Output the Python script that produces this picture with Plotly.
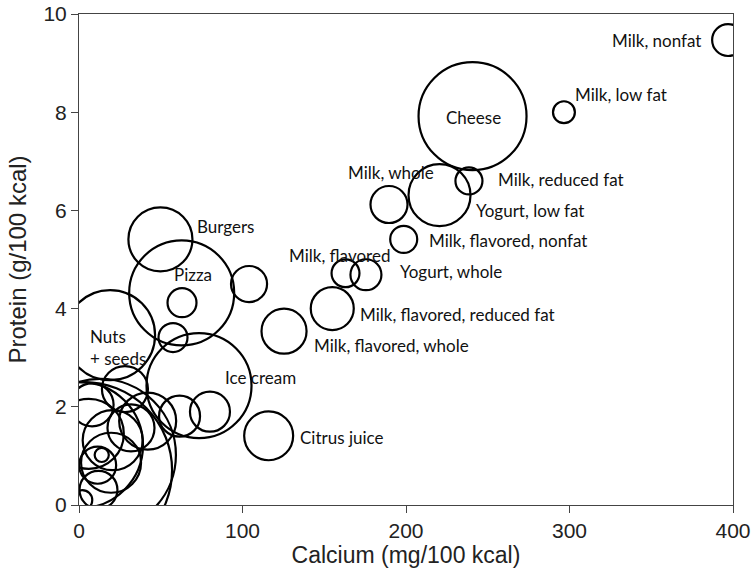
import plotly.graph_objects as go

# Food groups: calcium (mg/100 kcal), protein (g/100 kcal), relative bubble area (intake)
foods = [
    "Milk, nonfat", "Milk, low fat", "Cheese", "Milk, reduced fat", "Yogurt, low fat",
    "Milk, whole", "Milk, flavored, nonfat", "Milk, flavored", "Yogurt, whole",
    "Milk, flavored, reduced fat", "Milk, flavored, whole", "Citrus juice", "Burgers",
    "Pizza", "Other 1", "Other 2", "Other 3", "Nuts + seeds", "Ice cream", "Other 4",
    "Other 5", "Other 6", "Other 7", "Other 8", "Other 9", "Other 10", "Other 11",
    "Other 12", "Other 13", "Other 14", "Other 15", "Other 16", "Other 17",
    "Other 18", "Other 19",
]
calcium = [
    397, 296.6, 240.7, 238.5, 220.5,
    189.6, 198.6, 163, 175.5,
    154.9, 125.4, 116, 49.8,
    62.8, 63, 104, 57.5, 19, 73.4, 80.1,
    61.5, 3.1, 12.8, 0.6, 28.1, 31.8, 42,
    13.9, 11.4, 11.9, 8, 19.6, 20.6,
    6.0, 2.0,
]
protein = [
    9.47, 8.0, 7.92, 6.6, 6.31,
    6.12, 5.41, 4.72, 4.69,
    4.0, 3.54, 1.41, 5.41,
    4.32, 4.12, 4.5, 3.41, 3.46, 2.43, 1.9,
    1.81, 0.71, 1.02, 1.22, 2.36, 1.57, 1.71,
    1.02, 0.81, 0.31, 2.04, 0.86, 1.32,
    1.45, 0.1,
]
intake = [
    10.2, 4.8, 116.6, 7.3, 38.4,
    13.7, 7.3, 7.8, 9.6,
    18.5, 20.3, 24.0, 41.0,
    110.3, 8.4, 13.0, 8.4, 81.0, 110.3, 16.0,
    16.8, 309.8, 231.0, 158.8, 21.2, 22.1, 32.5,
    2.0, 13.7, 14.4, 18.5, 36.0, 36.0,
    49.0, 4.0,
]

x_ticks = [0, 100, 200, 300, 400]
y_ticks = [0, 2, 4, 6, 8, 10]

# label text and anchor position (data coordinates)
label_text = ["Milk, nonfat", "Milk, low fat", "Cheese", "Milk, reduced fat", "Milk, whole",
              "Yogurt, low fat", "Milk, flavored, nonfat", "Milk, flavored", "Yogurt, whole",
              "Milk, flavored, reduced fat", "Milk, flavored, whole", "Citrus juice",
              "Ice cream", "Burgers", "Pizza", "Nuts", "+ seeds"]
label_x = [381.6, 302.1, 241, 255, 163.3, 241.6, 212.8, 127.2, 195.1, 170.6, 142.5, 133.9,
           88.1, 70.9, 56.9, 5.5, 5.5]
label_y = [9.47, 8.37, 7.9, 6.62, 6.78, 5.99, 5.38, 5.09, 4.75, 3.87, 3.24, 1.38,
           2.59, 5.68, 4.7, 3.44, 2.99]
label_anchor = ["right", "left", "center", "left", "left", "left", "left", "left", "left",
                "left", "left", "left", "left", "left", "left", "left", "left"]

fig = go.Figure()
fig.add_trace(go.Scatter(
    x=calcium, y=protein, mode="markers", text=foods, hoverinfo="text",
    cliponaxis=True,
    marker=dict(size=intake, sizemode="area", sizeref=0.02, opacity=1,
                color="rgba(255,255,255,0)", line=dict(color="#000000", width=2.2)),
    showlegend=False,
))

for t, lx, ly, a in zip(label_text, label_x, label_y, label_anchor):
    fig.add_annotation(x=lx, y=ly, xref="x", yref="y", text=t, showarrow=False,
                       xanchor=a, yanchor="middle",
                       font=dict(family="Lato, Open Sans, sans-serif", size=17, color="#111"))

axis_font = "Liberation Sans, Arial, sans-serif"
fig.update_layout(
    width=755, height=575,
    margin=dict(l=79, r=22, t=14, b=70),
    paper_bgcolor="white", plot_bgcolor="white",
    font=dict(family=axis_font, color="#222"),
    xaxis=dict(range=[0, 400], tickvals=x_ticks, ticks="outside", ticklen=7,
               tickcolor="#444", showline=True, linecolor="#444", linewidth=1, mirror=True,
               showgrid=False, zeroline=False, tickfont=dict(size=21), automargin=False,
               ticklabeloverflow="allow",
               title=dict(text="Calcium (mg/100 kcal)", font=dict(size=23), standoff=0)),
    yaxis=dict(range=[0, 10], tickvals=y_ticks, ticks="outside", ticklen=7,
               tickcolor="#444", showline=True, linecolor="#444", linewidth=1, mirror=True,
               showgrid=False, zeroline=False, tickfont=dict(size=21), automargin=False,
               ticklabeloverflow="allow",
               title=dict(text="Protein (g/100 kcal)", font=dict(size=24), standoff=10)),
)

fig.write_html("out.html", config={"displayModeBar": False},
               post_script="document.body.style.margin='0';")
